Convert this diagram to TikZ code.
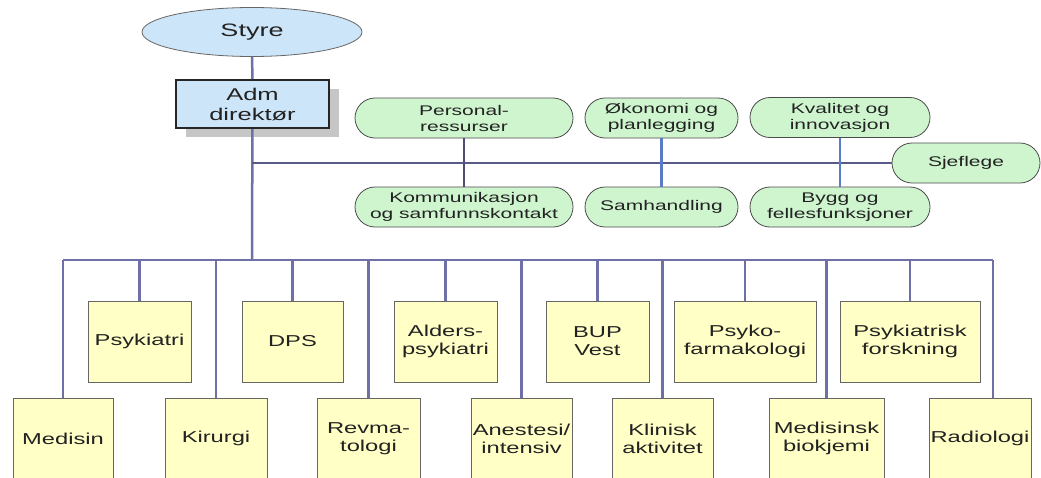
\documentclass[tikz,border=0pt]{standalone}
\usepackage{fontspec}
\setmainfont{Liberation Sans}[FakeStretch=1.5]
\usetikzlibrary{shapes.geometric,shadows}
\definecolor{linecol}{HTML}{7070A8}
\definecolor{bluelink}{HTML}{5A7CC8}
\definecolor{boardfill}{HTML}{CCE5F8}
\definecolor{yellowfill}{HTML}{FFFFC6}
\definecolor{greenfill}{HTML}{CFF5CF}
\definecolor{txt}{HTML}{222222}

\begin{document}
\begin{tikzpicture}[x=1pt,y=-1pt,
  unitbox/.style={draw=gray!80!black,thick,fill=yellowfill,minimum width=103pt,minimum height=81pt,inner sep=1pt,align=center,text=txt,font=\fontsize{15.8}{18}\selectfont},
  staffbox/.style={draw=gray!60!black,thick,fill=greenfill,rounded corners=20pt,minimum height=40pt,inner sep=1pt,align=center,text=txt,font=\fontsize{14}{16}\selectfont},
  link/.style={linecol,line width=2.5pt}]
\clip (0,0) rectangle (1041,477);
\fill[white] (0,0) rectangle (1041,477);
% top
\node[ellipse,draw=gray!80!black,thick,fill=boardfill,minimum width=220pt,minimum height=49pt,text=txt,font=\fontsize{18}{20}\selectfont] (styre) at (252,32) {Styre};
\node[draw=gray!30!black,line width=2pt,fill=boardfill,minimum width=153pt,minimum height=48pt,align=center,text=txt,font=\fontsize{17}{20}\selectfont,
  drop shadow={shadow xshift=10pt,shadow yshift=-9pt,fill=gray!45,opacity=1}] (adm) at (252.5,104) {Adm\\direktør};
% staff
\node[staffbox,minimum width=218pt] (pers) at (464,118) {Personal-\\ressurser};
\node[staffbox,minimum width=218pt] (komm) at (464,207) {Kommunikasjon\\og samfunnskontakt};
\node[staffbox,minimum width=153pt] (okon) at (661.5,118) {Økonomi og\\planlegging};
\node[staffbox,minimum width=153pt] (samh) at (661.5,207) {Samhandling};
\node[staffbox,minimum width=180pt] (kval) at (840,117.5) {Kvalitet og\\innovasjon};
\node[staffbox,minimum width=180pt] (bygg) at (840,207) {Bygg og\\fellesfunksjoner};
\node[staffbox,minimum width=148pt] (sjef) at (966,163) {Sjeflege};
% units, upper row
\node[unitbox] (psyk) at (139.5,341.5) {Psykiatri};
\node[unitbox,minimum width=101pt] (dps) at (292.5,341.5) {DPS};
\node[unitbox] (alder) at (445.5,341.5) {Alders-\\psykiatri};
\node[unitbox] (bup) at (597.5,341.5) {BUP\\Vest};
\node[unitbox,minimum width=142pt] (farm) at (745,341.5) {Psyko-\\farmakologi};
\node[unitbox,minimum width=140pt] (forsk) at (910,341.5) {Psykiatrisk\\forskning};
% units, lower row
\node[unitbox,minimum width=100pt] (med) at (63,438.5) {Medisin};
\node[unitbox,minimum width=102pt] (kir) at (216,438.5) {Kirurgi};
\node[unitbox] (revma) at (368.5,438.5) {Revma-\\tologi};
\node[unitbox,minimum width=101pt] (anest) at (521.5,438.5) {Anestesi/\\intensiv};
\node[unitbox,minimum width=101pt] (klin) at (662.5,438.5) {Klinisk\\aktivitet};
\node[unitbox,minimum width=115pt] (biok) at (826.5,438.5) {Medisinsk\\biokjemi};
\node[unitbox,minimum width=102pt] (radio) at (980,438.5) {Radiologi};
% lines
\coordinate (bus) at (252,260);
\coordinate (staffline) at (252,163);
\draw[link] (styre) -- (adm);
\draw[link] (adm) -- (bus);
\draw[linecol!80!black,line width=1.5pt] (staffline) -- (sjef.west);
\draw[linecol!70!black,line width=2pt] (pers) -- (komm);
\draw[bluelink,line width=2.5pt] (okon) -- (samh);
\draw[bluelink,line width=2.5pt] (kval) -- (bygg);
\draw[link] (med.north |- bus) -- ([xshift=13pt]radio.north |- bus);
\foreach \u in {psyk,dps,alder,bup,farm,forsk,med,kir,revma,anest,klin,biok}
  \draw[link] (\u.north) -- (\u.north |- bus);
\draw[link] ([xshift=13pt]radio.north) -- ([xshift=13pt]radio.north |- bus);
\end{tikzpicture}
\end{document}
